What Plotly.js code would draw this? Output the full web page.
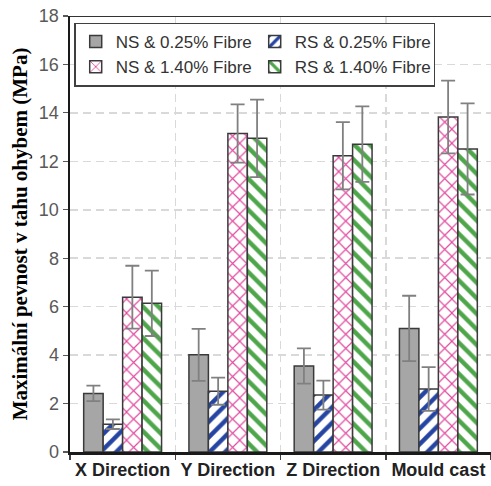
<!DOCTYPE html>
<html><head><meta charset="utf-8">
<script src="https://cdn.plot.ly/plotly-3.0.1.min.js"></script>
<style>html,body{margin:0;padding:0;background:#fff}#chart{width:491px;height:486px}</style>
</head><body><div id="chart"></div>
<script>
const categories = ['X Direction', 'Y Direction', 'Z Direction', 'Mould cast'];
const seriesNames = ['NS & 0.25% Fibre', 'RS & 0.25% Fibre', 'NS & 1.40% Fibre', 'RS & 1.40% Fibre'];
const ns025 = [2.42, 4.01, 3.55, 5.10];
const ns025Err = [0.32, 1.07, 0.73, 1.35];
const rs025 = [1.15, 2.51, 2.35, 2.60];
const rs025Err = [0.20, 0.56, 0.60, 0.90];
const ns140 = [6.39, 13.15, 12.23, 13.83];
const ns140Err = [1.30, 1.20, 1.39, 1.50];
const rs140 = [6.14, 12.95, 12.71, 12.51];
const rs140Err = [1.35, 1.60, 1.56, 1.88];
const yTicks = [0, 2, 4, 6, 8, 10, 12, 14, 16, 18];

const outline = {color: '#3a3a3a', width: 1.5};
const err = (a) => ({type: 'data', array: a, visible: true, color: '#808080', thickness: 1.8, width: 7});

const traces = [
  {name: seriesNames[0], x: categories, y: ns025, type: 'bar', error_y: err(ns025Err),
   marker: {color: '#a6a6a6', line: outline}},
  {name: seriesNames[1], x: categories, y: rs025, type: 'bar', error_y: err(rs025Err),
   marker: {color: '#2645a3', line: outline, pattern: {shape: '/', bgcolor: '#ffffff', fgcolor: '#2645a3', size: 11, solidity: 0.4}}},
  {name: seriesNames[2], x: categories, y: ns140, type: 'bar', error_y: err(ns140Err),
   marker: {color: '#e04a9e', line: outline, pattern: {shape: 'x', bgcolor: '#ffffff', fgcolor: '#e04a9e', size: 10, solidity: 0.22}}},
  {name: seriesNames[3], x: categories, y: rs140, type: 'bar', error_y: err(rs140Err),
   marker: {color: '#4ea64a', line: outline, pattern: {shape: '\\', bgcolor: '#ffffff', fgcolor: '#4ea64a', size: 11, solidity: 0.4}}}
];

const layout = {
  width: 491, height: 486,
  margin: {l: 70, r: 0, t: 16, b: 34},
  paper_bgcolor: '#ffffff', plot_bgcolor: '#ffffff',
  barmode: 'group', bargap: 0.26, bargroupgap: 0,
  font: {family: 'Liberation Sans, Arial, sans-serif', color: '#595959'},
  xaxis: {
    type: 'category', tickson: 'boundaries', ticks: 'outside', ticklen: 5, tickcolor: '#404040', tickwidth: 1.5,
    showline: true, linecolor: '#1a1a1a', linewidth: 2.5,
    showgrid: true, gridcolor: '#d9d9d9', gridwidth: 1.5, griddash: '8px,5px',
    tickfont: {family: 'Liberation Sans, Arial, sans-serif', size: 18, color: '#222222', weight: 'bold'}
  },
  yaxis: {
    range: [0, 18], tickvals: yTicks, ticktext: yTicks.map(String),
    ticks: 'outside', ticklen: 5, tickcolor: '#595959', tickwidth: 1.2,
    showline: true, linecolor: '#1a1a1a', linewidth: 2.5, zeroline: false,
    showgrid: true, gridcolor: '#d9d9d9', gridwidth: 1.5, griddash: '8px,5px',
    tickfont: {size: 18, color: '#595959'},
    title: {text: 'Maximální pevnost v tahu ohybem (MPa)', standoff: 6,
      font: {family: 'Liberation Serif, Times New Roman, serif', size: 21, color: '#000000', weight: 'bold'}}
  },
  legend: {
    orientation: 'h', x: 0.01, y: 0.985, xanchor: 'left', yanchor: 'top',
    bgcolor: '#ffffff', bordercolor: '#404040', borderwidth: 1.5,
    font: {size: 17, color: '#333333'}, itemwidth: 30, tracegroupgap: 0,
    entrywidth: 134, entrywidthmode: 'pixels'
  },
  shapes: [{type: 'line', xref: 'paper', yref: 'y', x0: 0, x1: 1, y0: 18, y1: 18, line: {color: '#333333', width: 2}}],
  showlegend: true
};

Plotly.newPlot('chart', traces, layout, {displayModeBar: false, staticPlot: true});
</script></body></html>
